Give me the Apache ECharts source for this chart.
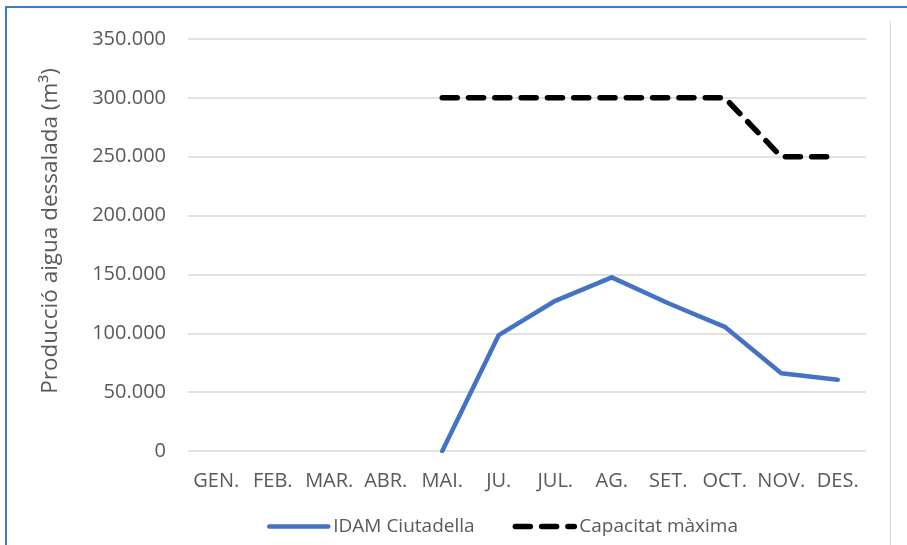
<!DOCTYPE html>
<html>
<head>
<meta charset="utf-8">
<script src="https://cdn.jsdelivr.net/npm/echarts@6/dist/echarts.min.js"></script>
<style>
  html, body { margin: 0; padding: 0; background: #fff; overflow: hidden; }
  #frame { position: absolute; left: 5px; top: 6px; width: 1000px; height: 700px;
           border-left: 2px solid #3B7DC6; border-top: 2px solid #3B7DC6; }
  #edge { position: absolute; left: 890px; top: 21px; width: 1px; height: 600px; background: #d9d9d9; }
  #chart { position: absolute; left: 0; top: 0; width: 907px; height: 545px; }
</style>
</head>
<body>
<div id="frame"></div>
<div id="edge"></div>
<div id="chart"></div>
<script>
// Monthly desalinated water production vs. maximum capacity
const months = ['GEN.', 'FEB.', 'MAR.', 'ABR.', 'MAI.', 'JU.', 'JUL.', 'AG.', 'SET.', 'OCT.', 'NOV.', 'DES.'];
const produccio = [null, null, null, null, 0, 98500, 127600, 147500, 125500, 105500, 66000, 60500];
const capacitat = [null, null, null, null, 300000, 300000, 300000, 300000, 300000, 300000, 250000, 250000];
const seriesNames = ['IDAM Ciutadella', 'Capacitat màxima'];
const yAxisTitle = 'Producció aigua dessalada (m³)';

const fontFamily = "'Open Sans', sans-serif";
const textColor = '#595959';

const blueLine = { color: '#4472C4', width: 4.5, cap: 'round', join: 'round' };
const dashLine = { color: '#000000', width: 5.5, type: [15, 11.3], cap: 'round', join: 'round' };

const chart = echarts.init(document.getElementById('chart'), null, { renderer: 'canvas' });
chart.setOption({
  animation: false,
  textStyle: { fontFamily: fontFamily },
  grid: { left: 188, right: 41, top: 39, bottom: 94, containLabel: false },
  xAxis: {
    type: 'category',
    data: months,
    boundaryGap: true,
    axisLine: { show: false },
    axisTick: { show: false },
    axisLabel: { color: textColor, fontSize: 20, margin: 20, fontFamily: fontFamily, interval: 0 }
  },
  yAxis: {
    type: 'value',
    min: 0,
    max: 350000,
    interval: 50000,
    name: yAxisTitle,
    nameLocation: 'middle',
    nameRotate: 90,
    nameGap: 126,
    nameTextStyle: { color: textColor, fontSize: 22.5, fontFamily: fontFamily, padding: [0, 0, 0, 28] },
    axisLine: { show: false },
    axisTick: { show: false },
    splitLine: { lineStyle: { color: '#d9d9d9', width: 1.5 } },
    axisLabel: {
      color: textColor, fontSize: 20, margin: 22, fontFamily: fontFamily,
      formatter: function (v) {
        return v === 0 ? '0' : v.toLocaleString('de-DE');
      }
    }
  },
  legend: {
    bottom: 4,
    left: 262,
    itemWidth: 59,
    itemHeight: 14,
    itemGap: 38,
    itemStyle: { opacity: 0 },
    textStyle: { color: textColor, fontSize: 19, fontFamily: fontFamily },
    data: [
      { name: seriesNames[0], lineStyle: blueLine },
      { name: seriesNames[1], lineStyle: dashLine }
    ]
  },
  series: [
    {
      name: seriesNames[0],
      type: 'line',
      data: produccio,
      symbol: 'none',
      connectNulls: false,
      lineStyle: blueLine,
      itemStyle: { color: '#4472C4' }
    },
    {
      name: seriesNames[1],
      type: 'line',
      data: capacitat,
      symbol: 'none',
      connectNulls: false,
      lineStyle: dashLine,
      itemStyle: { color: '#000000' }
    }
  ]
});
</script>
</body>
</html>
